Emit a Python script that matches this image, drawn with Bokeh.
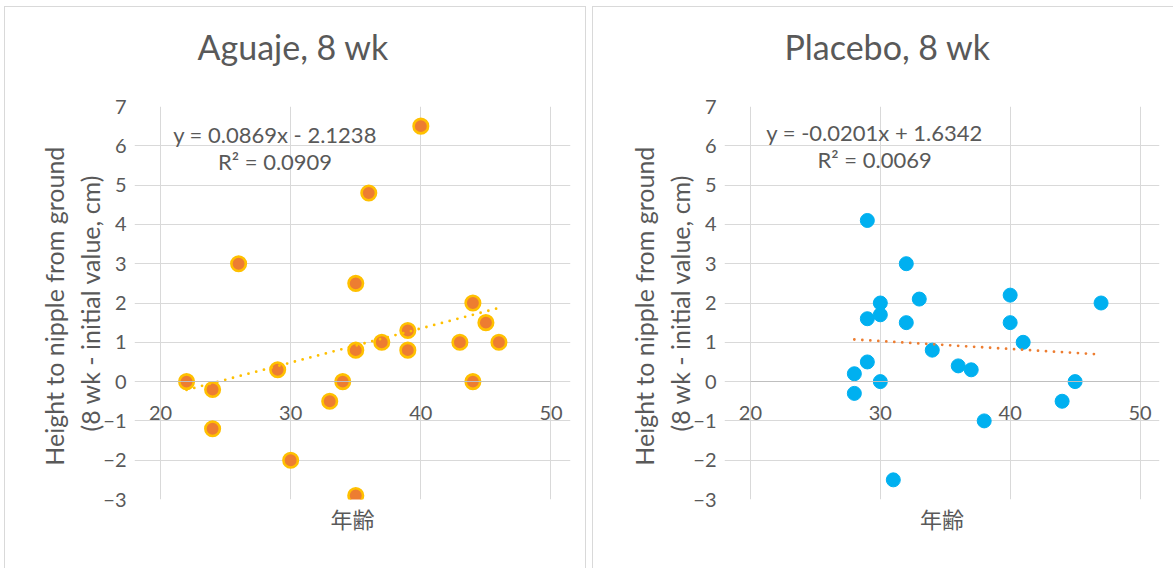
from bokeh.plotting import figure
from bokeh.layouts import row
from bokeh.models import FixedTicker, Range1d, Title, ColumnDataSource
from bokeh.core.properties import value
from bokeh.embed import file_html
from bokeh.resources import INLINE

# ---------------- data ----------------
x_ticks = [20, 30, 40, 50]
y_ticks = [-3, -2, -1, 0, 1, 2, 3, 4, 5, 6, 7]

aguaje_age = [22, 24, 24, 26, 29, 30, 33, 34, 35, 35, 35, 36, 37, 39, 39, 40, 43, 44, 44, 45, 46]
aguaje_delta = [0, -0.2, -1.2, 3, 0.3, -2, -0.5, 0, 2.5, 0.8, -2.9, 4.8, 1, 1.3, 0.8, 6.5, 1, 2, 0, 1.5, 1]

placebo_age = [28, 28, 29, 29, 29, 30, 30, 30, 31, 32, 32, 33, 34, 36, 37, 38, 40, 40, 41, 44, 45, 47]
placebo_delta = [0.2, -0.3, 4.1, 1.6, 0.5, 2, 1.7, 0, -2.5, 3, 1.5, 2.1, 0.8, 0.4, 0.3, -1, 2.2, 1.5, 1, -0.5, 0, 2]

aguaje_fit = [0.0869, -2.1238]     # slope, intercept
placebo_fit = [-0.0201, 1.6342]
aguaje_eq = ["y = 0.0869x - 2.1238", "R² = 0.0909"]
placebo_eq = ["y = -0.0201x + 1.6342", "R² = 0.0069"]

titles = ["Aguaje, 8 wk", "Placebo, 8 wk"]
x_title = "年齢"
y_title = "Height to nipple from  ground\n(8 wk - initial value, cm)"

FONT = "Lato"
TXT = "#595959"
GRID = "#d9d9d9"


def make_panel(title, ages, deltas, fit, eq, eq_x, eq_y, mk, trend_color,
               left, right, title_offset, styles):
    p = figure(frame_width=434, frame_height=392,
               min_border_left=left, min_border_right=right,
               min_border_top=99, min_border_bottom=70,
               x_range=Range1d(x_ticks[0] - 2, x_ticks[-1] + 1.5),
               y_range=Range1d(y_ticks[0], y_ticks[-1]),
               output_backend="svg", toolbar_location=None,
               background_fill_color="white", border_fill_color="white",
               styles=styles)
    p.outline_line_color = None
    p.title = None

    # grids limited to the plot area 20..50 x -3..7
    p.xgrid.ticker = FixedTicker(ticks=x_ticks)
    p.ygrid.ticker = FixedTicker(ticks=y_ticks)
    p.xgrid.bounds = (y_ticks[0], y_ticks[-1])
    p.ygrid.bounds = (x_ticks[0], x_ticks[-1])
    for g in (p.xgrid[0], p.ygrid[0]):
        g.grid_line_color = GRID
        g.grid_line_width = 1

    # x axis crossing at y = 0
    xa = p.xaxis[0]
    xa.ticker = FixedTicker(ticks=x_ticks)
    xa.fixed_location = 0
    xa.bounds = (x_ticks[0], x_ticks[-1])
    xa.axis_line_color = "#bfbfbf"
    xa.major_tick_line_color = None
    xa.minor_tick_line_color = None
    xa.major_label_standoff = 18
    xa.major_label_text_font = FONT
    xa.major_label_text_font_size = "20px"
    xa.major_label_text_color = TXT

    ya = p.yaxis[0]
    ya.ticker = FixedTicker(ticks=y_ticks)
    ya.axis_line_color = None
    ya.major_tick_line_color = None
    ya.minor_tick_line_color = None
    ya.major_label_standoff = 2
    ya.major_label_text_font = FONT
    ya.major_label_text_font_size = "20px"
    ya.major_label_text_color = TXT
    ya.axis_label = y_title
    ya.axis_label_standoff = -5
    ya.axis_label_text_font = FONT
    ya.axis_label_text_font_size = "25px"
    ya.axis_label_text_font_style = "normal"
    ya.axis_label_text_color = TXT

    src = ColumnDataSource(dict(x=ages, y=deltas))
    p.scatter("x", "y", source=src, size=mk["size"], fill_color=mk["fill"],
              line_color=mk["line"], line_width=mk["lw"])

    tx = [min(ages), max(ages)]
    ty = [fit[0] * v + fit[1] for v in tx]
    p.line(tx, ty, line_color=trend_color, line_width=2.8,
           line_dash="0 8", line_cap="round")

    p.text(x=[eq_x, eq_x], y=eq_y, text=eq, text_align="center",
           text_baseline="middle", text_font=value(FONT),
           text_font_size="22px", text_color=TXT)

    # spacer between plot area and chart title, then the title itself
    p.add_layout(Title(text=" ", text_font_size="1px", standoff=37), "above")
    p.add_layout(Title(text=title, align="left", offset=title_offset,
                       text_font=FONT, text_font_size="34px",
                       text_font_style="normal", text_color=TXT, standoff=0),
                 "above")
    p.add_layout(Title(text=x_title, align="center",
                       text_font="Noto Sans CJK JP", text_font_size="22px",
                       text_font_style="normal", text_color=TXT, standoff=0),
                 "below")
    return p


p1 = make_panel(titles[0], aguaje_age, aguaje_delta, aguaje_fit, aguaje_eq,
                28.8, [6.30, 5.59],
                dict(size=14.5, fill="#ED7D31", line="#FFC000", lw=2.6),
                "#FFC000", 129, 17, 63,
                {"border": "1px solid #d9d9d9", "border-bottom": "none"})
p2 = make_panel(titles[1], placebo_age, placebo_delta, placebo_fit, placebo_eq,
                29.56, [6.33, 5.64],
                dict(size=14, fill="#00B0F0", line="#00B0F0", lw=1),
                "#ED7D31", 131, 15, 60,
                {"border": "1px solid #d9d9d9", "border-bottom": "none",
                 "border-right": "none"})

layout = row(p1, p2, spacing=6, margin=(6, 0, 0, 4))
open("out.html", "w").write(file_html(layout, INLINE))
